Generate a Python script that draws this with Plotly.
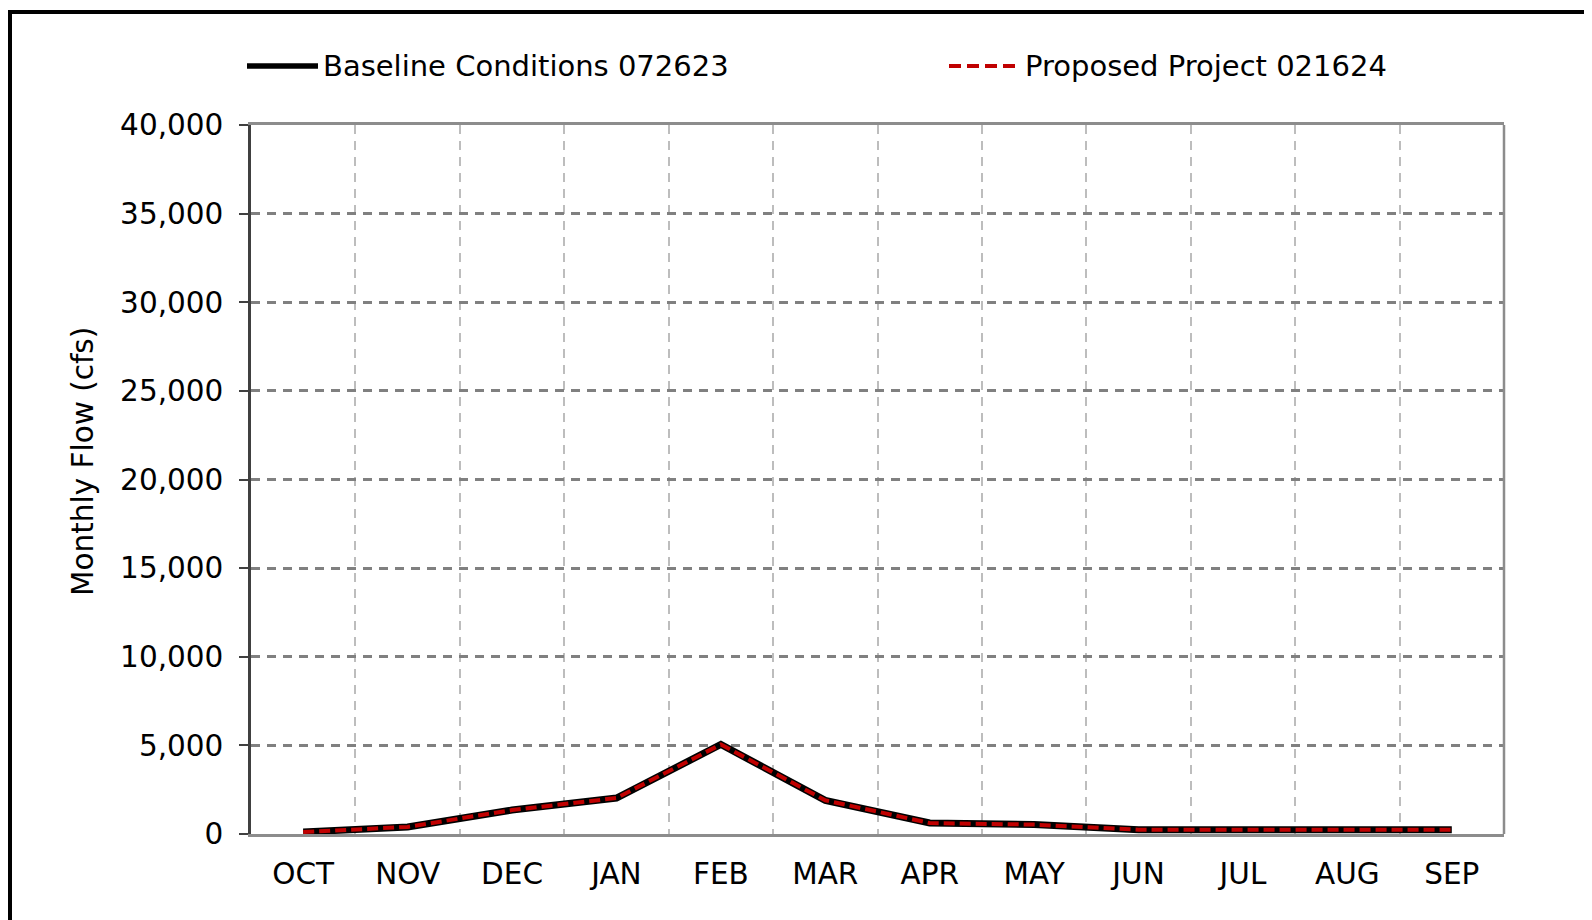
import plotly.graph_objects as go

months = ["OCT", "NOV", "DEC", "JAN", "FEB", "MAR", "APR", "MAY", "JUN", "JUL", "AUG", "SEP"]
baseline = [110, 400, 1350, 2030, 5050, 1900, 620, 530, 240, 240, 190, 240]
proposed = [110, 400, 1350, 2030, 5050, 1900, 620, 530, 240, 240, 190, 240]
y_ticks = [0, 5000, 10000, 15000, 20000, 25000, 30000, 35000, 40000]
y_tick_text = ["0", "5,000", "10,000", "15,000", "20,000", "25,000", "30,000", "35,000", "40,000"]
name_base = "Baseline Conditions 072623"
name_prop = "Proposed Project 021624"
y_title = "Monthly Flow (cfs)"

# page offset from default body margin
OFF = 8
W, H = 1584, 912
L, R, T, B = 251, 1504, 125, 834  # plot area in page coordinates
FONT = "DejaVu Sans, Verdana, sans-serif"
FS = 29.5
FS_LEG = 29


def px(x):
    return (x - L) / (R - L)


def py(y):
    return (B - y) / (B - T)


fig = go.Figure()
fig.add_trace(go.Scatter(x=months, y=baseline, mode="lines", name=name_base,
                         line=dict(color="#000000", width=7), showlegend=False))
fig.add_trace(go.Scatter(x=months, y=proposed, mode="lines", name=name_prop,
                         line=dict(color="#c00000", width=4, dash="11px,5px"), showlegend=False))

shapes = [
    # outer border
    dict(type="rect", xref="paper", yref="paper", x0=px(10), x1=px(1660), y0=py(980), y1=py(12),
         line=dict(color="#000000", width=4), fillcolor="rgba(0,0,0,0)", layer="above"),
    # right plot border
    dict(type="line", xref="paper", yref="paper", x0=1, x1=1, y0=0, y1=1,
         line=dict(color="#8c8c8c", width=2.5), layer="above"),
    # legend samples
    dict(type="line", xref="paper", yref="paper", x0=px(247), x1=px(318), y0=py(66), y1=py(66),
         line=dict(color="#000000", width=5.5)),
    dict(type="line", xref="paper", yref="paper", x0=px(949), x1=px(1020), y0=py(66), y1=py(66),
         line=dict(color="#c00000", width=4, dash="12px,6px")),
]

annotations = [
    dict(text=name_base, xref="paper", yref="paper", x=px(321), y=py(66), xanchor="left",
         yanchor="middle", showarrow=False, font=dict(family=FONT, size=FS_LEG, color="#000000")),
    dict(text=name_prop, xref="paper", yref="paper", x=px(1023), y=py(66), xanchor="left",
         yanchor="middle", showarrow=False, font=dict(family=FONT, size=FS_LEG, color="#000000")),
    dict(text=y_title, xref="paper", yref="paper", x=px(83), y=py(462), xanchor="center",
         yanchor="middle", textangle=-90, showarrow=False,
         font=dict(family=FONT, size=FS, color="#000000")),
]

fig.update_layout(
    width=W, height=H,
    margin=dict(l=L - OFF, r=W + OFF - R, t=T - OFF, b=H + OFF - B, pad=0),
    paper_bgcolor="#ffffff", plot_bgcolor="#ffffff",
    font=dict(family=FONT, size=FS, color="#000000"),
    shapes=shapes, annotations=annotations,
    showlegend=False,
)
fig.update_xaxes(
    type="category", categoryorder="array", categoryarray=months,
    range=[-0.5, len(months) - 0.5],
    tickson="boundaries", ticks="", showgrid=True,
    gridcolor="#bdbdbd", gridwidth=2, griddash="9px,7px",
    showline=True, linecolor="#8c8c8c", linewidth=2.5, mirror=True,
    tickfont=dict(family=FONT, size=FS, color="#000000"),
    ticklabelstandoff=12, zeroline=False,
)
fig.update_yaxes(
    range=[0, 40000], tickvals=y_ticks, ticktext=y_tick_text,
    ticks="outside", ticklen=9, tickwidth=2, tickcolor="#404040",
    showgrid=True, gridcolor="#808080", gridwidth=2.5, griddash="9px,7px",
    showline=True, linecolor="#404040", linewidth=2.5,
    zeroline=False,
    tickfont=dict(family=FONT, size=FS, color="#000000"),
    ticklabelstandoff=10,
)

fig.write_html("out.html")
